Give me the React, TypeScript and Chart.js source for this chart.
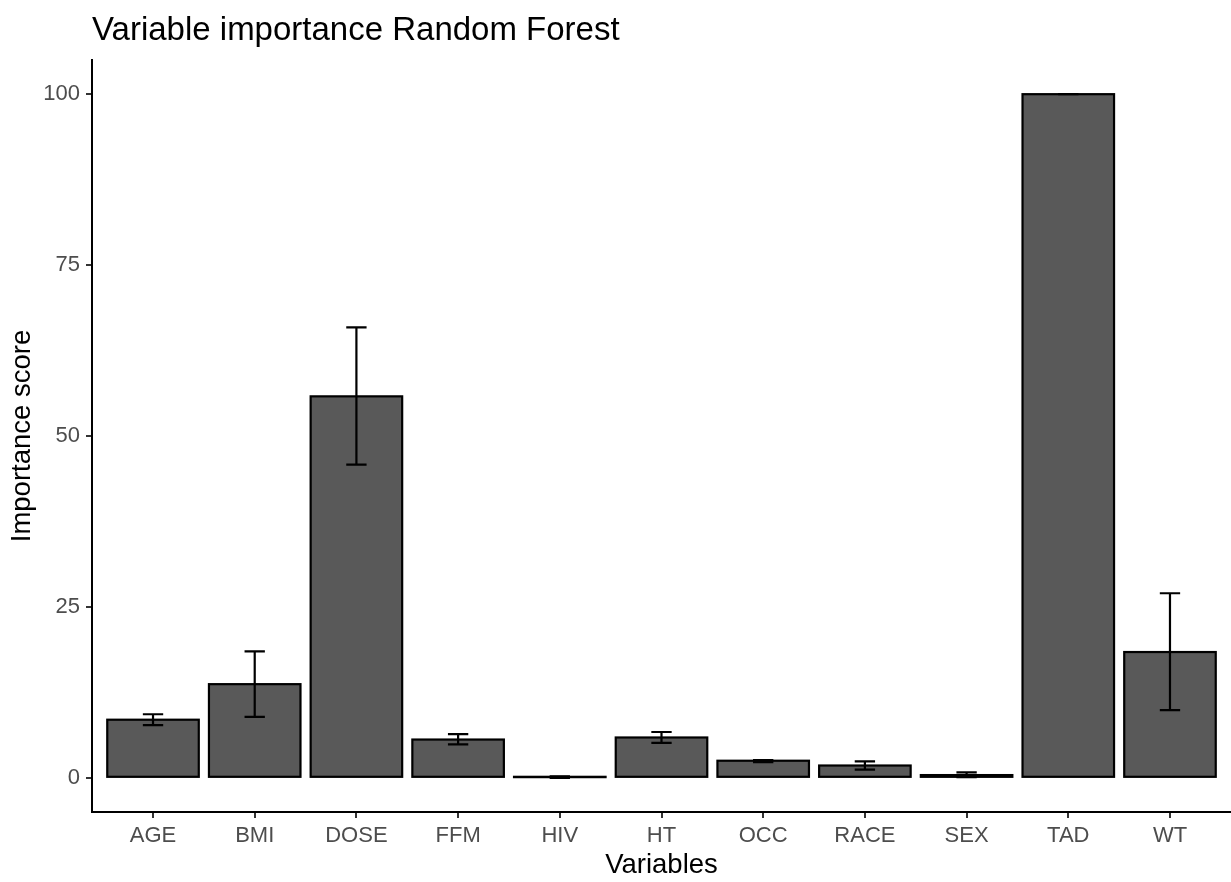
import React, { useEffect, useRef } from "react";
import { Chart, registerables } from "chart.js";

Chart.register(...registerables);

const categories = ["AGE", "BMI", "DOSE", "FFM", "HIV", "HT", "OCC", "RACE", "SEX", "TAD", "WT"];
const importance = [8.5, 13.7, 55.8, 5.6, 0.1, 5.9, 2.5, 1.8, 0.4, 100, 18.4];
const errLow = [7.7, 8.9, 45.8, 4.9, 0.0, 5.1, 2.3, 1.2, 0.1, 100, 9.9];
const errHigh = [9.3, 18.5, 65.9, 6.4, 0.2, 6.7, 2.6, 2.4, 0.8, 100, 27.0];
const yTicks = [0, 25, 50, 75, 100];

const FONT = "'Liberation Sans', Arial, sans-serif";

const barOutlinePlugin = {
  id: "barOutline",
  afterDatasetsDraw(chart: any) {
    const { ctx } = chart;
    const meta = chart.getDatasetMeta(0);
    ctx.save();
    ctx.strokeStyle = "#000000";
    ctx.lineWidth = 2.2;
    ctx.lineJoin = "miter";
    meta.data.forEach((bar: any) => {
      const { x, y, base, width } = bar.getProps(["x", "y", "base", "width"], true);
      const top = Math.min(y, base);
      const h = Math.abs(base - y);
      ctx.strokeRect(x - width / 2, top, width, h);
    });
    ctx.restore();
  },
};

const errorBarPlugin = {
  id: "errorBars",
  afterDatasetsDraw(chart: any) {
    const { ctx, scales } = chart;
    const xs = scales.x;
    const ys = scales.y;
    const capHalf = xs.getPixelForValue(1.1) - xs.getPixelForValue(1);
    ctx.save();
    ctx.strokeStyle = "#000000";
    ctx.lineWidth = 2.2;
    ctx.lineCap = "butt";
    categories.forEach((_, i) => {
      const x = xs.getPixelForValue(i + 1);
      const y1 = ys.getPixelForValue(errLow[i]);
      const y2 = ys.getPixelForValue(errHigh[i]);
      ctx.beginPath();
      ctx.moveTo(x, y1);
      ctx.lineTo(x, y2);
      ctx.moveTo(x - capHalf, y1);
      ctx.lineTo(x + capHalf, y1);
      ctx.moveTo(x - capHalf, y2);
      ctx.lineTo(x + capHalf, y2);
      ctx.stroke();
    });
    ctx.restore();
  },
};

const titlePlugin = {
  id: "plotTitle",
  afterDraw(chart: any) {
    const { ctx } = chart;
    ctx.save();
    ctx.font = `33px ${FONT}`;
    ctx.fillStyle = "#000000";
    ctx.textAlign = "left";
    ctx.textBaseline = "alphabetic";
    ctx.fillText("Variable importance Random Forest", 92, 40);
    ctx.restore();
  },
};

export default function App() {
  const canvasRef = useRef<HTMLCanvasElement | null>(null);

  useEffect(() => {
    if (!canvasRef.current) return;
    const chart = new Chart(canvasRef.current, {
      type: "bar",
      data: {
        datasets: [
          {
            data: categories.map((_, i) => ({ x: i + 1, y: importance[i] })),
            backgroundColor: "#595959",
            borderWidth: 0,
            barPercentage: 0.9,
            categoryPercentage: 1,
          },
        ],
      },
      options: {
        responsive: false,
        animation: false,
        layout: { padding: { top: 60, left: 0, right: 0, bottom: 0 } },
        plugins: {
          legend: { display: false },
          tooltip: { enabled: false },
          title: { display: false },
        },
        scales: {
          x: {
            type: "linear",
            min: 0.4,
            max: 11.6,
            offset: false,
            afterBuildTicks: (scale: any) => {
              scale.ticks = categories.map((_, i) => ({ value: i + 1 }));
            },
            afterFit: (scale: any) => {
              scale.height = 70;
            },
            ticks: {
              autoSkip: false,
              maxRotation: 0,
              padding: 5,
              color: "#4d4d4d",
              font: { family: FONT, size: 22 },
              callback: (v: any) => categories[Math.round(Number(v)) - 1] ?? "",
            },
            grid: {
              display: true,
              offset: false,
              drawOnChartArea: false,
              drawTicks: true,
              tickLength: 6,
              color: "#333333",
              lineWidth: 2,
            },
            border: { display: true, color: "#000000", width: 2 },
            title: {
              display: true,
              text: "Variables",
              color: "#000000",
              font: { family: FONT, size: 27.5 },
              padding: { top: 0, bottom: 0 },
            },
          },
          y: {
            type: "linear",
            min: -5,
            max: 105,
            afterBuildTicks: (scale: any) => {
              scale.ticks = yTicks.map((v) => ({ value: v }));
            },
            afterFit: (scale: any) => {
              scale.width = 92;
            },
            ticks: {
              padding: 6,
              color: "#4d4d4d",
              font: { family: FONT, size: 22 },
            },
            grid: {
              display: true,
              drawOnChartArea: false,
              drawTicks: true,
              tickLength: 6,
              color: "#333333",
              lineWidth: 2,
            },
            border: { display: true, color: "#000000", width: 2 },
            title: {
              display: true,
              text: "Importance score",
              color: "#000000",
              font: { family: FONT, size: 27.5 },
              padding: { top: 6, bottom: 0 },
            },
          },
        },
      },
      plugins: [barOutlinePlugin, errorBarPlugin, titlePlugin],
    } as any);
    return () => chart.destroy();
  }, []);

  return (
    <div style={{ position: "absolute", left: 0, top: 0, width: 1231, height: 882, background: "#ffffff" }}>
      <canvas ref={canvasRef} width={1231} height={882} style={{ display: "block" }} />
    </div>
  );
}
